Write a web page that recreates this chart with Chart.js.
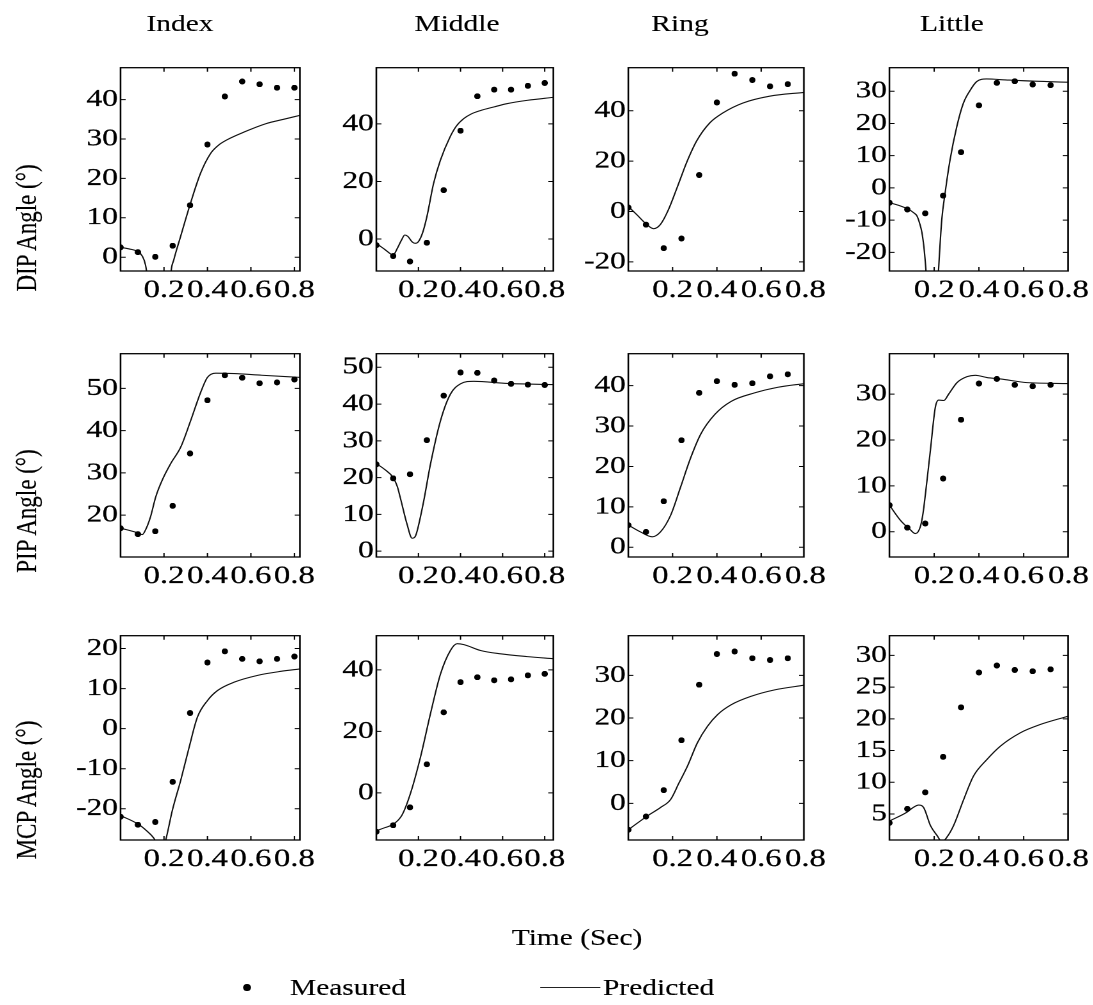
<!DOCTYPE html>
<html>
<head>
<meta charset="utf-8">
<script src="https://cdn.jsdelivr.net/npm/chart.js@4.4.1/dist/chart.umd.min.js"></script>
<style>
  html, body { margin: 0; padding: 0; background: #fff; }
  body { width: 1093px; height: 1005px; overflow: hidden; position: relative; }
  #stage { position: absolute; left: 0; top: 0; height: 1005px; transform-origin: 0 0; }
  .panel { position: absolute; }
  .txt { position: absolute; font-family: "Liberation Serif", "Times New Roman", serif; color: #000; white-space: nowrap; line-height: 1; -webkit-text-stroke: 0.15px #000; }
</style>
</head>
<body>
<div id="stage"></div>
<script>
// Joint angle time courses for the four fingers: measured samples and model prediction.
const fingers = ['Index', 'Middle', 'Ring', 'Little'];
const joints = ['DIP Angle (°)', 'PIP Angle (°)', 'MCP Angle (°)'];
const sampleTimes = [0, 0.08, 0.16, 0.24, 0.32, 0.40, 0.48, 0.56, 0.64, 0.72, 0.80];
const xTickValues = [0.2, 0.4, 0.6, 0.8];

// Measured angles (degrees) at sampleTimes
const dipIndexMeasured  = [2.5, 1.3, 0.1, 2.9, 13.2, 28.6, 40.8, 44.6, 43.9, 43.0, 43.0];
const dipMiddleMeasured = [-2.1, -5.9, -7.8, -1.3, 17.0, 37.6, 49.6, 51.9, 51.9, 53.2, 54.2];
const dipRingMeasured   = [1.6, -5.2, -14.5, -10.7, 14.5, 43.3, 54.7, 52.2, 49.7, 50.6];
const dipLittleMeasured = [-4.6, -6.7, -7.9, -2.4, 11.1, 25.6, 32.6, 33.1, 32.1, 31.9];
const pipIndexMeasured  = [16.9, 15.5, 16.2, 22.2, 34.6, 47.2, 53.1, 52.5, 51.2, 51.4, 52.1];
const pipMiddleMeasured = [23.6, 19.8, 20.9, 30.2, 42.3, 48.6, 48.5, 46.4, 45.5, 45.3, 45.2];
const pipRingMeasured   = [5.5, 3.8, 11.4, 26.5, 38.2, 41.1, 40.2, 40.6, 42.3, 42.8];
const pipLittleMeasured = [5.8, 0.9, 1.8, 11.6, 24.4, 32.3, 33.3, 32.0, 31.7, 32.0];
const mcpIndexMeasured  = [-22.0, -24.0, -23.3, -13.3, 3.9, 16.5, 19.3, 17.4, 16.8, 17.4, 18.0];
const mcpMiddleMeasured = [-12.6, -10.5, -4.7, 9.3, 26.2, 36.0, 37.6, 36.6, 36.9, 38.2, 38.7];
const mcpRingMeasured   = [-6.2, -3.1, 3.1, 14.8, 27.8, 35.0, 35.6, 34.0, 33.6, 34.0];
const mcpLittleMeasured = [3.6, 5.8, 8.4, 14.0, 21.8, 27.3, 28.4, 27.7, 27.5, 27.8];

// Predicted angles as [time, degrees]
const dipIndexPredicted = [[0,2.5],[0.04,2.1],[0.08,1.4],[0.10,0.3],[0.115,-2],[0.13,-8],[0.15,-20],[0.17,-30],[0.20,-30],[0.22,-14],[0.233,-3.5],[0.245,-0.7],[0.276,5.2],[0.322,13.7],[0.368,21.3],[0.414,26.3],[0.45,28.4],[0.49,29.8],[0.57,31.8],[0.67,33.9],[0.75,35.0],[0.825,36.0]];
const dipMiddlePredicted = [[0,-1.5],[0.04,-3.6],[0.08,-5.5],[0.10,-3.2],[0.12,-0.3],[0.135,1.4],[0.15,0.9],[0.17,-1.0],[0.185,-1.5],[0.20,-0.9],[0.22,2.2],[0.24,7.7],[0.272,19.3],[0.304,27.3],[0.35,35.4],[0.38,39.2],[0.415,41.8],[0.45,43.4],[0.494,44.6],[0.56,45.9],[0.62,47.0],[0.72,48.2],[0.84,49.2]];
const dipRingPredicted = [[0,2.0],[0.039,-1.3],[0.084,-5.2],[0.114,-6.8],[0.144,-5.2],[0.181,0.7],[0.219,9.2],[0.264,19.6],[0.309,28.1],[0.369,35.3],[0.428,39.2],[0.518,43.1],[0.638,45.8],[0.793,47.3]];
const dipLittlePredicted = [[0,-4.6],[0.04,-5.4],[0.086,-6.7],[0.11,-7.8],[0.123,-8.7],[0.135,-11],[0.145,-13.8],[0.155,-19],[0.164,-26.5],[0.175,-40],[0.20,-45],[0.212,-35],[0.219,-26],[0.234,-9.8],[0.249,-1.5],[0.271,8.7],[0.301,19.0],[0.33,26.2],[0.36,30.2],[0.39,33.0],[0.434,33.8],[0.52,33.5],[0.65,33.1],[0.798,32.8]];
const pipIndexPredicted = [[0,16.9],[0.04,16.4],[0.08,15.8],[0.10,15.4],[0.115,16.5],[0.138,19.6],[0.162,24.3],[0.192,28.3],[0.231,32.2],[0.277,36.1],[0.323,42.4],[0.369,49.1],[0.40,52.6],[0.438,53.6],[0.523,53.5],[0.65,53.1],[0.826,52.6]];
const pipMiddlePredicted = [[0,23.8],[0.04,22.2],[0.08,20.0],[0.10,17.5],[0.114,14.5],[0.146,7.3],[0.17,3.5],[0.185,4.0],[0.194,5.5],[0.225,13.6],[0.257,23.6],[0.305,35.5],[0.352,42.7],[0.40,45.5],[0.463,46.2],[0.622,45.6],[0.843,45.3]];
const pipRingPredicted = [[0,5.5],[0.055,3.8],[0.108,2.6],[0.145,3.8],[0.191,7.9],[0.236,14.9],[0.282,22.2],[0.327,28.0],[0.391,32.9],[0.464,36.1],[0.57,38.2],[0.676,39.6],[0.795,40.5]];
const pipLittlePredicted = [[0,5.8],[0.049,2.5],[0.094,0.4],[0.116,-0.4],[0.138,1.1],[0.15,4.0],[0.161,8.3],[0.183,17.7],[0.205,27.1],[0.22,28.7],[0.243,28.6],[0.265,30.0],[0.302,32.5],[0.347,33.8],[0.384,34.1],[0.436,33.6],[0.496,33.3],[0.615,32.5],[0.80,32.3]];
const mcpIndexPredicted = [[0,-21.7],[0.08,-23.8],[0.12,-25.5],[0.154,-27.4],[0.18,-30],[0.195,-30],[0.208,-27.8],[0.239,-20.3],[0.277,-12.9],[0.316,-4.6],[0.354,2.9],[0.40,7.0],[0.446,9.5],[0.523,11.6],[0.631,13.3],[0.738,14.3],[0.826,14.9]];
const mcpMiddlePredicted = [[0,-12.3],[0.04,-11.3],[0.08,-10.2],[0.122,-7.2],[0.162,-0.2],[0.21,11.7],[0.257,25.7],[0.305,38.7],[0.352,46.3],[0.384,48.5],[0.416,48.2],[0.495,46.3],[0.59,45.2],[0.717,44.3],[0.843,43.6]];
const mcpRingPredicted = [[0,-6.2],[0.085,-3.0],[0.145,-1.0],[0.191,0.9],[0.229,4.8],[0.267,8.7],[0.312,14.2],[0.358,18.1],[0.403,20.8],[0.464,23.1],[0.555,25.1],[0.661,26.6],[0.795,27.7]];
const mcpLittlePredicted = [[0,3.9],[0.079,5.3],[0.105,6.0],[0.131,6.4],[0.153,6.0],[0.183,3.2],[0.213,1.6],[0.235,0.6],[0.258,1.4],[0.287,3.2],[0.332,7.3],[0.376,11.0],[0.436,13.6],[0.496,15.7],[0.585,17.8],[0.674,19.1],[0.798,20.4]];

// Y tick labels per joint row / finger column
const dipTicks = [[0,10,20,30,40],[0,20,40],[-20,0,20,40],[-20,-10,0,10,20,30]];
const pipTicks = [[20,30,40,50],[0,10,20,30,40,50],[0,10,20,30,40],[0,10,20,30]];
const mcpTicks = [[-20,-10,0,10,20],[0,20,40],[0,10,20,30],[5,10,15,20,25,30]];

// Axis ranges
const xMaxByCol = [0.825, 0.841, 0.793, 0.798];
const yRanges = [
  [[-3.5,48.1],[-11.1,59.5],[-23.6,57.1],[-25.8,37.3]],
  [[10.1,58.2],[-1.6,53.7],[-2.4,47.9],[-5.5,38.8]],
  [[-27.8,23.2],[-15.3,51.1],[-8.6,39.3],[0.9,33.1]]
];

const measuredGrid = [
  [dipIndexMeasured, dipMiddleMeasured, dipRingMeasured, dipLittleMeasured],
  [pipIndexMeasured, pipMiddleMeasured, pipRingMeasured, pipLittleMeasured],
  [mcpIndexMeasured, mcpMiddleMeasured, mcpRingMeasured, mcpLittleMeasured]
];
const predictedGrid = [
  [dipIndexPredicted, dipMiddlePredicted, dipRingPredicted, dipLittlePredicted],
  [pipIndexPredicted, pipMiddlePredicted, pipRingPredicted, pipLittlePredicted],
  [mcpIndexPredicted, mcpMiddlePredicted, mcpRingPredicted, mcpLittlePredicted]
];
const tickGrid = [dipTicks, pipTicks, mcpTicks];

// ---- layout (page pixels) ----
const S = 1.28;                      // horizontal stretch of the whole figure
const colLeft = [120, 376, 628, 889];
const colRight = [299, 553, 804, 1068];
const rowTop = [67, 353, 635];
const rowBottom = [271, 557, 840];
const YW = 62, PT = 16, PR = 26, XH = 44;
const FONT = '"Liberation Serif", "Times New Roman", serif';

const stage = document.getElementById('stage');
stage.style.width = (1093 / S) + 'px';
stage.style.transform = 'scaleX(' + S + ')';

function addText(str, x, y, size, opts = {}) {
  const d = document.createElement('div');
  d.className = 'txt';
  d.textContent = str;
  d.style.fontSize = size + 'px';
  d.style.left = (x / S) + 'px';
  d.style.top = y + 'px';
  let tf = opts.anchor === 'left' ? 'translate(0,-50%)' : 'translate(-50%,-50%)';
  if (opts.rotate) tf += ' rotate(-90deg)';
  d.style.transform = tf;
  stage.appendChild(d);
}

// Column and row titles, shared x title, legend
const titleX = [180, 457, 680, 952];
fingers.forEach((f, i) => addText(f, titleX[i], 23, 23));
const rowLabelY = [228, 511, 790];
joints.forEach((j, i) => addText(j, 27, rowLabelY[i], 23, { rotate: true }));
addText('Time (Sec)', 577, 937, 23);
addText('Measured', 290, 987, 23, { anchor: 'left' });
addText('Predicted', 603, 987, 23, { anchor: 'left' });
(function legendMarks() {
  const dot = document.createElement('div');
  dot.style.cssText = 'position:absolute;background:#000;border-radius:50%;';
  dot.style.width = (7 / S) + 'px'; dot.style.height = '7px';
  dot.style.left = ((247 - 3.5) / S) + 'px'; dot.style.top = (987 - 3.5) + 'px';
  stage.appendChild(dot);
  const ln = document.createElement('div');
  ln.style.cssText = 'position:absolute;background:#222;height:1px;';
  ln.style.left = (540 / S) + 'px'; ln.style.width = (60 / S) + 'px'; ln.style.top = '987px';
  stage.appendChild(ln);
})();

// Frame with inward tick marks on all four sides (only ticks inside the range)
const framePlugin = {
  id: 'frame',
  afterDatasetsDraw(chart) {
    const { ctx, chartArea: a, scales: { x, y } } = chart;
    ctx.save();
    ctx.strokeStyle = '#000';
    ctx.lineWidth = 1.3;
    ctx.strokeRect(a.left, a.top, a.right - a.left, a.bottom - a.top);
    ctx.lineWidth = 1;
    ctx.beginPath();
    y.ticks.forEach(t => {
      if (t.value < y.min || t.value > y.max) return;
      const py = y.getPixelForValue(t.value);
      ctx.moveTo(a.left, py); ctx.lineTo(a.left + 4, py);
      ctx.moveTo(a.right, py); ctx.lineTo(a.right - 4, py);
    });
    x.ticks.forEach(t => {
      if (t.value < x.min || t.value > x.max - 0.004) return;
      const px = x.getPixelForValue(t.value);
      ctx.moveTo(px, a.bottom); ctx.lineTo(px, a.bottom - 4);
      ctx.moveTo(px, a.top); ctx.lineTo(px, a.top + 4);
    });
    ctx.stroke();
    ctx.restore();
  }
};

// Round marker after the horizontal stretch: pre-compressed ellipse
const DOT = 6.6;
const dotImg = new Image();
dotImg.onload = buildAll;
dotImg.src = 'data:image/svg+xml,' + encodeURIComponent(
  '<svg xmlns="http://www.w3.org/2000/svg" width="40" height="50" viewBox="0 0 40 50">' +
  '<ellipse cx="20" cy="25" rx="20" ry="25" fill="#000"/></svg>');
dotImg.width = DOT / S;
dotImg.height = DOT;

const yTickFont = { family: FONT, size: 24.5 };
const xTickFont = { family: FONT, size: 25.5 };

function buildAll() {
  dotImg.width = DOT / S;
  dotImg.height = DOT;
  for (let r = 0; r < 3; r++) {
    for (let c = 0; c < 4; c++) {
      const plotW = (colRight[c] - colLeft[c]) / S;
      const plotH = rowBottom[r] - rowTop[r];
      const box = document.createElement('div');
      box.className = 'panel';
      box.style.left = (colLeft[c] / S - YW) + 'px';
      box.style.top = (rowTop[r] - PT) + 'px';
      box.style.width = (YW + plotW + PR) + 'px';
      box.style.height = (PT + plotH + XH) + 'px';
      const cv = document.createElement('canvas');
      box.appendChild(cv);
      stage.appendChild(box);

      const meas = measuredGrid[r][c];
      const pred = predictedGrid[r][c];
      const yTicks = tickGrid[r][c];
      const [yMin, yMax] = yRanges[r][c];

      new Chart(cv, {
        type: 'scatter',
        data: {
          datasets: [
            {
              type: 'scatter',
              label: 'Measured',
              data: meas.map((v, i) => ({ x: sampleTimes[i], y: v })),
              pointStyle: dotImg,
              pointRadius: 3,
              backgroundColor: '#000',
              borderWidth: 0
            },
            {
              type: 'line',
              label: 'Predicted',
              data: pred.map(p => ({ x: p[0], y: p[1] })),
              borderColor: '#111',
              borderWidth: 1.1,
              pointRadius: 0,
              fill: false,
              cubicInterpolationMode: 'monotone'
            }
          ]
        },
        options: {
          responsive: true,
          maintainAspectRatio: false,
          animation: false,
          devicePixelRatio: 2,
          layout: { padding: { top: PT, right: PR, left: 0, bottom: 0 } },
          plugins: { legend: { display: false }, tooltip: { enabled: false } },
          scales: {
            x: {
              type: 'linear', min: 0, max: xMaxByCol[c],
              grid: { display: false, drawTicks: false }, border: { display: false },
              afterBuildTicks: s => { s.ticks = xTickValues.map(v => ({ value: v })); },
              afterFit: s => { s.height = XH; },
              ticks: {
                autoSkip: false, maxRotation: 0, padding: 4, color: '#000',
                textStrokeColor: '#000', textStrokeWidth: 0.25,
                font: xTickFont,
                callback: v => Number(v).toFixed(1)
              }
            },
            y: {
              type: 'linear', min: yMin, max: yMax,
              grid: { display: false, drawTicks: false }, border: { display: false },
              afterBuildTicks: s => { s.ticks = yTicks.map(v => ({ value: v })); },
              afterFit: s => { s.width = YW; },
              ticks: {
                autoSkip: false, padding: 2, color: '#000',
                textStrokeColor: '#000', textStrokeWidth: 0.25,
                font: yTickFont,
                callback: v => String(v)
              }
            }
          }
        },
        plugins: [framePlugin]
      });
    }
  }
}
</script>
</body>
</html>
